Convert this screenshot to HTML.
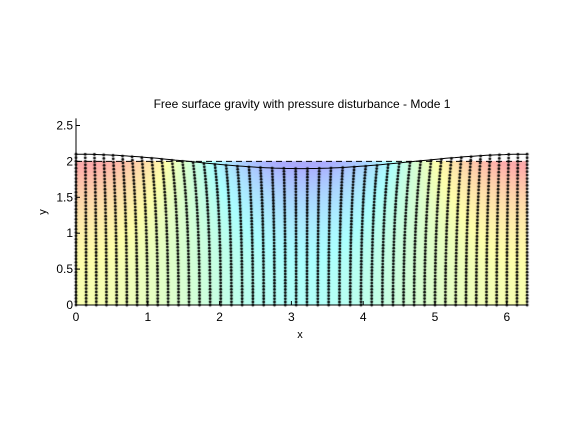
<!DOCTYPE html>
<html><head><meta charset="utf-8"><style>
html,body{margin:0;padding:0;background:#fff;width:584px;height:438px;overflow:hidden;font-family:"Liberation Sans",sans-serif}
#wrap{position:relative;width:584px;height:438px}
canvas,svg{position:absolute;left:0;top:0}
</style></head><body>
<div id="wrap">
<canvas id="cv" width="584" height="438"></canvas>
<svg id="sv" width="584" height="438"></svg>
</div>
<script>
const xTicks=[0,1,2,3,4,5,6];
const yTicks=[0,0.5,1,1.5,2,2.5];
const depth=[2];
const amplitude=[0.1];
const waveNumber=[1];
const nCols=[44];
const nRows=[46];
const X0=76, Y0=305, S=71.8, XMAX=2*Math.PI, YMAX=2.6;
const sx=x=>X0+x*S, sy=y=>Y0-y*S;
const cv=document.getElementById('cv'), c=cv.getContext('2d');
function jet(v){v=Math.max(0,Math.min(1,v));
 const r=Math.max(0,Math.min(1,1.5-Math.abs(4*v-3))),g=Math.max(0,Math.min(1,1.5-Math.abs(4*v-2))),b=Math.max(0,Math.min(1,1.5-Math.abs(4*v-1)));return [r,g,b];}
const h=depth[0],a=amplitude[0],k=waveNumber[0];
for(let px=Math.round(sx(0));px<Math.round(sx(XMAX));px++){
 for(let py=Math.round(sy(h));py<Math.round(sy(0));py++){
  const x=(px+0.5-X0)/S,y=(Y0-py-0.5)/S;
  const v=0.5+0.5*Math.cos(k*x)*Math.cosh(k*y)/Math.cosh(k*h);
  const [r,g,b]=jet(0.1+0.8*v);const al=0.33;
  c.fillStyle=`rgb(${Math.round(255*(1-al+al*r))},${Math.round(255*(1-al+al*g))},${Math.round(255*(1-al+al*b))})`;
  c.fillRect(px,py,1,1);
 }}
c.fillStyle='#000';
for(let i=0;i<nCols[0];i++){const x0=i*XMAX/(nCols[0]-1);
 for(let j=0;j<nRows[0];j++){const y0=j*h/(nRows[0]-1);
  const x=x0-a*Math.sin(k*x0)*Math.cosh(k*y0)/Math.sinh(k*h)*1.2;
  const y=y0+a*Math.cos(k*x0)*Math.sinh(k*y0)/Math.sinh(k*h);
  c.beginPath();c.arc(sx(x),sy(y),1.4,0,7);c.fill();}}
const svg=document.getElementById('sv');const NS='http://www.w3.org/2000/svg';
function el(t,at,txt){const e=document.createElementNS(NS,t);for(const q in at)e.setAttribute(q,at[q]);if(txt!==undefined)e.textContent=txt;svg.appendChild(e);return e;}
let d='';for(let i=0;i<=100;i++){const x=i*XMAX/100;d+=(i?'L':'M')+sx(x).toFixed(1)+','+sy(h+a*Math.cos(k*x)).toFixed(1);}
const sl=el('path',{d,fill:'none',stroke:'#000','stroke-width':1});

const dl=el('line',{x1:sx(0),x2:sx(XMAX),y1:sy(h),y2:sy(h),stroke:'#000','stroke-dasharray':'6,4','stroke-width':1});

const ax=el('path',{d:`M${sx(0)},${sy(YMAX)}V${sy(0)}H${sx(XMAX)}`,fill:'none',stroke:'#000','stroke-width':1});

xTicks.forEach(t=>{const l=el('line',{x1:sx(t),x2:sx(t),y1:sy(0),y2:sy(0)-4,stroke:'#000'});
 
 const tx=el('text',{x:sx(t),y:sy(0)+16,'text-anchor':'middle','font-size':12},String(t));
 });
yTicks.forEach(t=>{const l=el('line',{x1:sx(0),x2:sx(0)+4,y1:sy(t),y2:sy(t),stroke:'#000'});
 
 const tx=el('text',{x:sx(0)-3,y:sy(t)+4,'text-anchor':'end','font-size':12},String(t));
 });
const xt=el('text',{x:300,y:338,'text-anchor':'middle','font-size':11},'x');

const yt=el('text',{x:46,y:212,'text-anchor':'middle','font-size':11,transform:'rotate(-90 46 212)'},'y');

const tt=el('text',{x:302,y:108,'text-anchor':'middle','font-size':12},'Free surface gravity with pressure disturbance - Mode 1');

</script>
</body></html>
